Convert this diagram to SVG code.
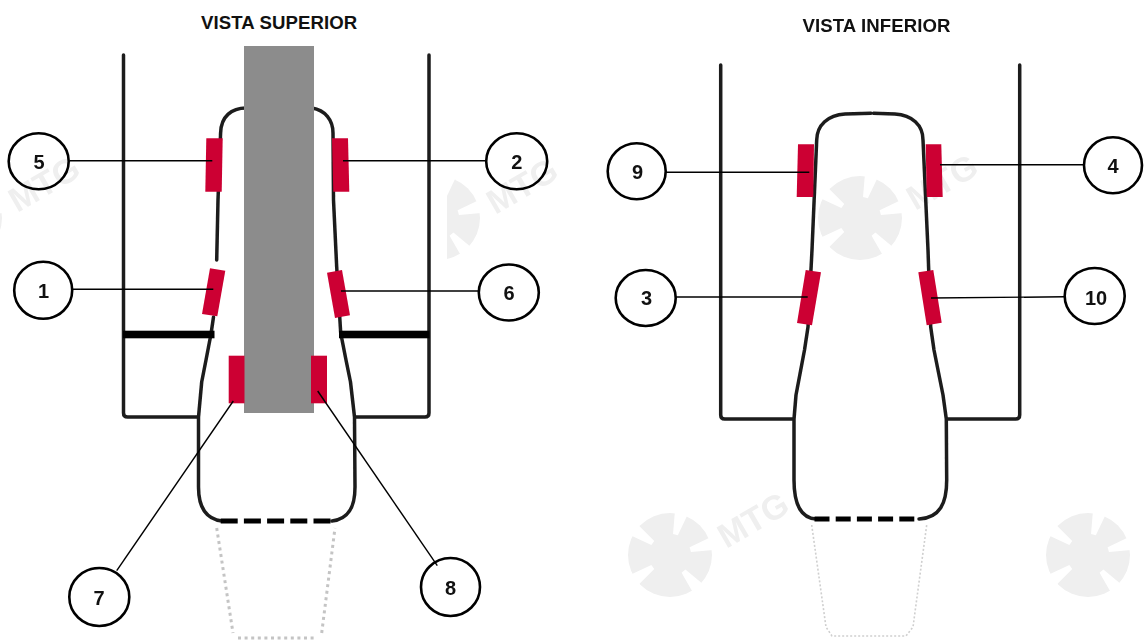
<svg xmlns="http://www.w3.org/2000/svg" width="1144" height="641" viewBox="0 0 1144 641">
<style>
text{font-family:"Liberation Sans",Arial,sans-serif;font-weight:700;fill:#111}
.title{font-size:18.6px;letter-spacing:.1px}
.num{font-size:20px;text-anchor:middle}
.wm{font-size:34px;fill:#efefef;text-anchor:middle}
.o{fill:none;stroke:#1c1c1c;stroke-width:3.5;stroke-linecap:round;stroke-linejoin:round}
.bar{fill:#000}
.dash{fill:none;stroke:#000;stroke-width:5}
.dot1{fill:none;stroke:#c4c4c4;stroke-width:3;stroke-dasharray:3 3.6}
.dot2{fill:none;stroke:#cfcfcf;stroke-width:1.6;stroke-dasharray:2 2}
.red{fill:#cc0033}
.ln{fill:none;stroke:#000;stroke-width:1.4}
.c{fill:none;stroke:#000;stroke-width:2.6}
</style>
<defs>
<filter id="soft" x="-5%" y="-5%" width="110%" height="110%"><feGaussianBlur stdDeviation="0.55"/></filter>
<clipPath id="midclip"><rect x="447" y="120" width="140" height="160"/></clipPath>
<polygon id="notch" points="-2.5,-21 2.5,-21 7,-46 -7,-46" fill="#fff"/>
<g id="gear">
<circle r="42" fill="#efefef"/>
<use href="#notch" transform="rotate(15)"/>
<use href="#notch" transform="rotate(75)"/>
<use href="#notch" transform="rotate(140)"/>
<use href="#notch" transform="rotate(235)"/>
<use href="#notch" transform="rotate(305)"/>
</g>
</defs>
<rect width="1144" height="641" fill="#fff"/>

<g id="watermarks" filter="url(#soft)">
<use href="#gear" x="-40" y="218"/>
<text class="wm" transform="translate(50,194) rotate(-30)">MTG</text>
<g clip-path="url(#midclip)"><use href="#gear" x="438" y="218"/></g>
<text class="wm" transform="translate(528,196) rotate(-30)">MTG</text>
<use href="#gear" x="860" y="218"/>
<text class="wm" transform="translate(948,192) rotate(-30)">MTG</text>
<use href="#gear" x="670" y="555"/>
<text class="wm" transform="translate(759,530) rotate(-30)">MTG</text>
<use href="#gear" x="1088" y="555"/>
</g>

<g id="vista-superior">
<text class="title" x="201" y="28.5">VISTA SUPERIOR</text>
<g filter="url(#soft)">
<path class="o" d="M123.5,55V413Q123.5,417 127.5,417H198"/>
<path class="o" d="M429,55V413Q429,417 425,417H355"/>
<path class="o" d="M246,108C232,108 221,116 220.6,133L218,200L216.7,260"/>
<path class="o" d="M213.5,317L211,334L206,360L201.7,382L198.5,417V487C198.5,506 205,519 222,521"/>
<path class="o" d="M312,108C325,110 333,120 333,133L333.5,200L336.7,267L340.7,333L346,360L350.5,382L354.5,417L355,487C355,505 350,519 332,521"/>
<rect class="bar" x="123" y="330.7" width="91.5" height="7.6"/>
<rect class="bar" x="339" y="330.7" width="90.5" height="7.6"/>
<path class="dash" stroke-dasharray="17 6.2" d="M220.7,521H334"/>
<path class="dot1" d="M216.7,528L233,633M238,638H315M321.7,633L335,528"/>
</g>
<rect id="rod" x="244" y="46" width="70" height="367" fill="#8c8c8c"/>
<polygon class="red" points="206.3,138.3 222.7,138.3 221.7,191.7 205.3,191.7"/>
<polygon class="red" points="332,138.3 348,138.3 349.3,191.7 333.3,191.7"/>
<polygon class="red" points="210,268.3 225.3,270.7 217.3,316.3 202,314"/>
<polygon class="red" points="327,272.7 342,270 350,315.3 335,318"/>
<rect class="red" x="228.7" y="355.7" width="15.8" height="47.6"/>
<rect class="red" x="311" y="355.7" width="16" height="47.6"/>
</g>

<g id="vista-inferior">
<text class="title" x="802.5" y="32">VISTA INFERIOR</text>
<g filter="url(#soft)">
<path class="o" d="M720.7,65V415Q720.7,419 724.7,419H793"/>
<path class="o" d="M1019.7,65V415Q1019.7,419 1015.7,419H947"/>
<path class="o" d="M871,113.3L845,114C828,115 817,125 816.7,140L812,250L808,327L804.5,350L796,395L794,419V480C794,503 800,518 816,519"/>
<path class="o" d="M873.5,113.3L895,114C912,115 923,125 923,140L928,250L930.7,327L934,350L943,395L946.3,419L946.7,480C946.7,503 940,518 919,519"/>
<path class="dash" stroke-dasharray="15 6.2" d="M814.5,519H920"/>
<path class="dot2" d="M811.7,525L826,627L832,636H906L913,627L926.7,525"/>
</g>
<polygon class="red" points="798,144.3 814,144.3 813.3,197 796.7,197"/>
<polygon class="red" points="925.7,144.3 941.3,144.3 942.7,197 926.7,197"/>
<polygon class="red" points="805.7,270 821,272.3 812,325.3 797,323"/>
<polygon class="red" points="918.3,272.3 933.3,270 941.7,322.7 926.7,325.3"/>
</g>

<g id="connectors">
<path class="ln" d="M69.5,160.7H212.3"/>
<path class="ln" d="M343,160.7H486"/>
<path class="ln" d="M72.5,289.3H213.3"/>
<path class="ln" d="M341,291H478.5"/>
<path class="ln" d="M233.3,401L116.7,570.7"/>
<path class="ln" d="M317.7,391L437.3,565.7"/>
<path class="ln" d="M666,172.3H809.3"/>
<path class="ln" d="M940,164.7H1084"/>
<path class="ln" d="M676,297H807.7"/>
<path class="ln" d="M931,298L1065,296.8"/>
</g>

<g id="n5"><ellipse class="c" cx="38.7" cy="161.3" rx="30" ry="28"/><text class="num" x="39" y="168.5">5</text></g>
<g id="n2"><ellipse class="c" cx="516.7" cy="161.3" rx="30.5" ry="28"/><text class="num" x="516.7" y="168.5">2</text></g>
<g id="n1"><ellipse class="c" cx="43.2" cy="290.3" rx="29" ry="28.5"/><text class="num" x="43.5" y="297.5">1</text></g>
<g id="n6"><ellipse class="c" cx="508.8" cy="292.5" rx="30" ry="28"/><text class="num" x="509" y="300">6</text></g>
<g id="n7"><ellipse class="c" cx="99.3" cy="597" rx="30" ry="29"/><text class="num" x="99" y="604.5">7</text></g>
<g id="n8"><ellipse class="c" cx="450.5" cy="587" rx="29.5" ry="29"/><text class="num" x="450.5" y="595">8</text></g>
<g id="n9"><ellipse class="c" cx="636.7" cy="171.3" rx="29" ry="28"/><text class="num" x="637.5" y="178.5">9</text></g>
<g id="n4"><ellipse class="c" cx="1113" cy="165.3" rx="29" ry="28"/><text class="num" x="1113" y="172.5">4</text></g>
<g id="n3"><ellipse class="c" cx="645.7" cy="298" rx="30" ry="28"/><text class="num" x="646.5" y="305">3</text></g>
<g id="n10"><ellipse class="c" cx="1094.7" cy="296" rx="30" ry="28"/><text class="num" x="1096" y="304.5">10</text></g>
</svg>
